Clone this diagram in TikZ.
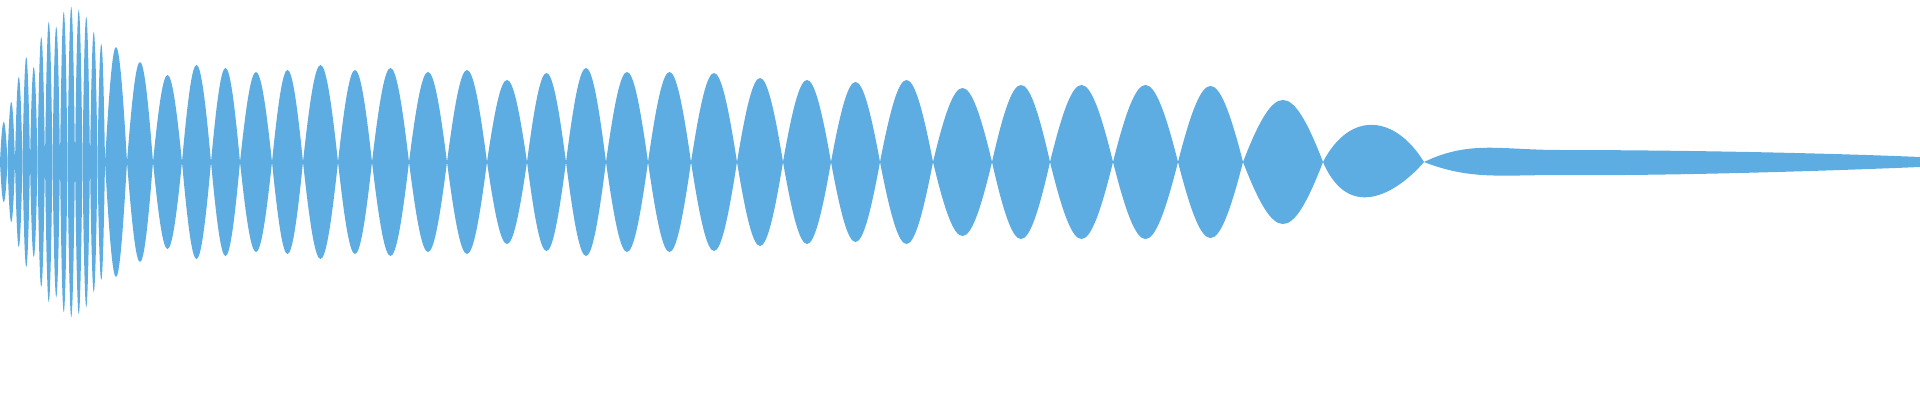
\documentclass[tikz,border=0pt]{standalone}
\definecolor{wave}{HTML}{5DADE2}
\begin{document}
\begin{tikzpicture}[x=0.01cm,y=-0.01cm]
\useasboundingbox (0,0) rectangle (1920,400);
% dense early part
\foreach \i/\a in {0/40,1/60,2/85,3/105,4/95,5/125,6/140,7/135,8/150,9/155,10/152,11/145,12/130,13/118}{
  \pgfmathsetmacro{\xa}{\i*7.5}\pgfmathsetmacro{\xb}{\xa+7.5}
  \pgfmathsetmacro{\h}{\a/0.75}
  \fill[wave] (\xa,162) .. controls ({\xa+2.5},{162-\h}) and ({\xb-2.5},{162-\h}) .. (\xb,162)
     .. controls ({\xb-2.5},{162+\h}) and ({\xa+2.5},{162+\h}) .. (\xa,162);
}
\foreach \xa/\xb/\a in {105/127/115,127/153/100,153/182/87,182/211/97,211/240/94,240/272/90,272/303/92,303/338/97,338/372/92,372/409/94,409/447/90,447/487/92,487/527/82,527/566/89,566/606/94,606/648/90,648/691/90,691/737/89,737/783/84,783/831/82,831/880/80,880/933/82,933/992/74,992/1050/77,1050/1113/77,1113/1178/77,1178/1243/76,1243/1323/62}{
  \pgfmathsetmacro{\h}{\a/0.75}\pgfmathsetmacro{\w}{\xb-\xa}
  \fill[wave] (\xa,162) .. controls ({\xa+0.4*\w},{162-\h}) and ({\xb-0.4*\w},{162-\h}) .. (\xb,162)
     .. controls ({\xb-0.4*\w},{162+\h}) and ({\xa+0.4*\w},{162+\h}) .. (\xa,162);
}
% late lobes
\fill[wave] (1323,162) .. controls (1350,110) and (1395,115) .. (1424,162)
  .. controls (1400,190) and (1350,225) .. (1323,162);
\fill[wave] (1424,162) .. controls (1470,140) and (1500,150) .. (1560,150)
  .. controls (1650,150) and (1800,152) .. (1920,157) -- (1920,167)
  .. controls (1800,172) and (1650,176) .. (1560,175)
  .. controls (1500,175) and (1470,180) .. (1424,162);
\end{tikzpicture}
\end{document}
